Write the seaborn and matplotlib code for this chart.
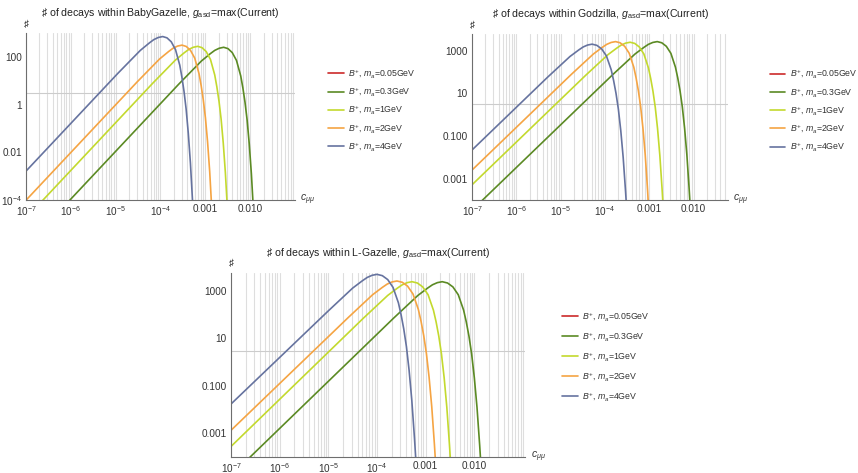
import numpy as np
import pandas as pd
import seaborn as sns
from matplotlib import pyplot as plt
from matplotlib.lines import Line2D
from matplotlib.ticker import FixedLocator, FixedFormatter, NullFormatter

sns.set_style("white")
plt.rcParams['font.family'] = ['Liberation Sans', 'DejaVu Sans']
plt.rcParams['mathtext.fontset'] = 'custom'
plt.rcParams['mathtext.rm'] = 'Liberation Sans'
plt.rcParams['mathtext.it'] = 'Liberation Sans:italic'
plt.rcParams['mathtext.bf'] = 'Liberation Sans:bold'

# Masses and colours
MASSES = ['0.05GeV', '0.3GeV', '1GeV', '2GeV', '4GeV']
COLORS = ['#cc2a2a', '#5b8a24', '#c3d92e', '#f5a443', '#66739f']

# ---- BabyGazelle: c_mumu and number of decays ----
bg_c_03 = [7.943e-7, 2.570e-4, 8.128e-4, 1.288e-3, 1.622e-3, 2.042e-3, 2.570e-3, 3.199e-3, 3.981e-3,
           4.955e-3, 6.166e-3, 6.879e-3, 7.674e-3, 8.560e-3, 9.550e-3, 1.065e-2, 1.189e-2]
bg_n_03 = [6.9e-5, 7.24, 66.1, 135, 186, 229, 251, 221, 151, 70.8, 15.8, 5.01, 1.26, 0.224, 0.0224,
           1.26e-3, 3.16e-5]
bg_c_1 = [1.995e-7, 6.761e-5, 2.138e-4, 3.388e-4, 4.266e-4, 5.370e-4, 6.761e-4, 8.414e-4, 1.047e-3,
          1.303e-3, 1.622e-3, 1.809e-3, 2.018e-3, 2.252e-3, 2.512e-3, 2.802e-3, 3.126e-3]
bg_n_1 = [6.9e-5, 7.94, 72.4, 148, 204, 251, 275, 243, 166, 77.6, 17.4, 5.50, 1.38, 0.245, 0.0245,
          1.38e-3, 3.5e-5]
bg_c_2 = [1e-7, 3.020e-5, 9.550e-5, 1.514e-4, 1.905e-4, 2.399e-4, 3.020e-4, 3.758e-4, 4.677e-4,
          5.821e-4, 7.244e-4, 8.081e-4, 9.016e-4, 1.006e-3, 1.122e-3, 1.252e-3, 1.396e-3]
bg_n_2 = [9.77e-5, 8.91, 81.3, 166, 229, 282, 309, 272, 186, 87.1, 19.5, 6.17, 1.55, 0.275, 0.0275,
          1.55e-3, 3.9e-5]
bg_c_4 = [1e-7, 1.122e-5, 3.548e-5, 5.623e-5, 7.079e-5, 8.913e-5, 1.122e-4, 1.396e-4, 1.738e-4,
          2.163e-4, 2.692e-4, 3.003e-4, 3.350e-4, 3.737e-4, 4.169e-4, 4.651e-4, 5.188e-4, 5.787e-4]
bg_n_4 = [1.62e-3, 20.4, 186, 380, 525, 646, 708, 624, 427, 200, 44.7, 14.1, 3.55, 0.631, 0.0631,
          3.55e-3, 8.9e-5, 1.41e-6]

# ---- Godzilla ----
gz_c_03 = [1.585e-7, 1.514e-4, 4.786e-4, 7.586e-4, 9.550e-4, 1.202e-3, 1.514e-3, 1.919e-3, 2.432e-3,
           3.083e-3, 3.908e-3, 4.401e-3, 4.955e-3, 5.578e-3, 6.281e-3, 7.070e-3, 7.962e-3, 8.964e-3]
gz_n_03 = [8.3e-5, 75.9, 692, 1413, 1950, 2399, 2630, 2317, 1585, 741, 166, 52.5, 13.2, 2.34, 0.234,
           0.0132, 3.31e-4, 5.2e-6]
gz_c_1 = [1e-7, 3.715e-5, 1.175e-4, 1.862e-4, 2.344e-4, 2.951e-4, 3.715e-4, 4.710e-4, 5.970e-4,
          7.568e-4, 9.594e-4, 1.080e-3, 1.216e-3, 1.369e-3, 1.542e-3, 1.736e-3, 1.954e-3, 2.200e-3]
gz_n_1 = [5.13e-4, 70.8, 646, 1318, 1820, 2239, 2455, 2163, 1479, 692, 155, 49.0, 12.3, 2.19, 0.219,
          0.0123, 3.09e-4, 4.9e-6]
gz_c_2 = [1e-7, 1.738e-5, 5.495e-5, 8.710e-5, 1.096e-4, 1.380e-4, 1.738e-4, 2.203e-4, 2.793e-4,
          3.540e-4, 4.487e-4, 5.052e-4, 5.689e-4, 6.405e-4, 7.211e-4, 8.121e-4, 9.141e-4, 1.029e-3]
gz_n_2 = [2.51e-3, 75.9, 692, 1413, 1950, 2399, 2630, 2317, 1585, 741, 166, 52.5, 13.2, 2.34, 0.234,
          0.0132, 3.31e-4, 5.2e-6]
gz_c_4 = [1e-7, 5.129e-6, 1.622e-5, 2.570e-5, 3.236e-5, 4.074e-5, 5.129e-5, 6.577e-5, 8.433e-5,
          1.081e-4, 1.387e-4, 1.570e-4, 1.778e-4, 2.014e-4, 2.280e-4, 2.582e-4, 2.924e-4, 3.311e-4]
gz_n_4 = [0.0219, 57.5, 525, 1072, 1479, 1820, 1995, 1758, 1202, 562, 126, 39.8, 10.0, 1.78, 0.178,
          0.01, 2.51e-4, 3.98e-6]

# ---- L-Gazelle ----
lg_c_03 = [1.995e-7, 2.188e-4, 6.918e-4, 1.096e-3, 1.380e-3, 1.738e-3, 2.188e-3, 2.818e-3, 3.631e-3,
           4.677e-3, 6.026e-3, 6.839e-3, 7.762e-3, 8.810e-3, 1.0e-2, 1.135e-2, 1.288e-2, 1.462e-2]
lg_n_03 = [6.3e-5, 69.2, 631, 1288, 1778, 2188, 2399, 2113, 1445, 676, 151, 47.9, 12.0, 2.14, 0.214,
           0.0120, 3.02e-4, 4.8e-6]
lg_c_1 = [1e-7, 5.248e-5, 1.660e-4, 2.630e-4, 3.311e-4, 4.169e-4, 5.248e-4, 6.761e-4, 8.710e-4,
          1.122e-3, 1.445e-3, 1.641e-3, 1.862e-3, 2.113e-3, 2.399e-3, 2.723e-3, 3.090e-3, 3.508e-3]
lg_n_1 = [2.69e-4, 69.2, 631, 1288, 1778, 2188, 2399, 2113, 1445, 676, 151, 47.9, 12.0, 2.14, 0.214,
          0.0120, 3.02e-4, 4.8e-6]
lg_c_2 = [1e-7, 2.570e-5, 8.128e-5, 1.288e-4, 1.622e-4, 2.042e-4, 2.570e-4, 3.311e-4, 4.266e-4,
          5.495e-4, 7.079e-4, 8.035e-4, 9.120e-4, 1.035e-3, 1.175e-3, 1.334e-3, 1.514e-3, 1.718e-3]
lg_n_2 = [1.29e-3, 74.1, 676, 1380, 1905, 2344, 2570, 2265, 1549, 724, 162, 51.3, 12.9, 2.29, 0.229,
          0.0129, 3.24e-4, 5.1e-6]
lg_c_4 = [1e-7, 1e-5, 3.162e-5, 5.012e-5, 6.310e-5, 7.943e-5, 1e-4, 1.288e-4, 1.660e-4, 2.138e-4,
          2.754e-4, 3.126e-4, 3.548e-4, 4.027e-4, 4.571e-4, 5.188e-4, 5.888e-4, 6.683e-4]
lg_n_4 = [0.0166, 141, 1288, 2630, 3631, 4467, 4898, 4315, 2951, 1380, 309, 97.7, 24.5, 4.37, 0.437,
          0.0245, 6.17e-4, 9.8e-6]

N_LIMIT = 3  # horizontal reference line


def frame(curves):
    rows = []
    for mass, c, n in curves:
        rows.append(pd.DataFrame({'c': c, 'N': n, 'mass': mass}))
    return pd.concat(rows, ignore_index=True)


panels = [
    dict(name='BabyGazelle', pos=[0.0303, 0.5772, 0.3135, 0.3531], xmax=0.1, ymax=1000,
         curves=[('0.3GeV', bg_c_03, bg_n_03), ('1GeV', bg_c_1, bg_n_1), ('2GeV', bg_c_2, bg_n_2),
                 ('4GeV', bg_c_4, bg_n_4)],
         yt=[1e-4, 1e-2, 1, 100], ytl=['$10^{-4}$', '0.01', '1', '100'],
         leg=(0.382, 0.858), spacing=0.63),
    dict(name='Godzilla', pos=[0.5501, 0.5772, 0.2984, 0.3510], xmax=0.06, ymax=6000,
         curves=[('0.3GeV', gz_c_03, gz_n_03), ('1GeV', gz_c_1, gz_n_1), ('2GeV', gz_c_2, gz_n_2),
                 ('4GeV', gz_c_4, gz_n_4)],
         yt=[1e-3, 0.1, 10, 1000], ytl=['0.001', '0.100', '10', '1000'],
         leg=(0.897, 0.857), spacing=0.63),
    dict(name='L-Gazelle', pos=[0.2692, 0.0345, 0.3427, 0.3884], xmax=0.11, ymax=5600,
         curves=[('0.3GeV', lg_c_03, lg_n_03), ('1GeV', lg_c_1, lg_n_1), ('2GeV', lg_c_2, lg_n_2),
                 ('4GeV', lg_c_4, lg_n_4)],
         yt=[1e-3, 0.1, 10, 1000], ytl=['0.001', '0.100', '10', '1000'],
         leg=(0.655, 0.344), spacing=0.83),
]

palette = dict(zip(MASSES, COLORS))
fig = plt.figure(figsize=(8.58, 4.73), dpi=100)

for p in panels:
    ax = fig.add_axes(p['pos'])
    ax.set_xscale('log')
    ax.set_yscale('log')
    ax.set_xlim(1e-7, p['xmax'])
    ax.set_ylim(1e-4, p['ymax'])

    # vertical grid lines (1..9 x each decade)
    for dec in range(-7, 0):
        for k in range(1, 10):
            v = k * 10.0 ** dec
            if v < p['xmax']:
                ax.axvline(v, color='#dedede', lw=0.8, zorder=0)
    ax.axhline(N_LIMIT, color='#cccccc', lw=0.8, zorder=0)

    df = frame(p['curves'])
    sns.lineplot(data=df, x='c', y='N', hue='mass', palette=palette, sort=False,
                 estimator=None, lw=1.2, legend=False, ax=ax)

    for s in ['top', 'right']:
        ax.spines[s].set_visible(False)
    for s in ['left', 'bottom']:
        ax.spines[s].set_color('#6e6e6e')
        ax.spines[s].set_linewidth(0.8)

    xt = [1e-7, 1e-6, 1e-5, 1e-4, 1e-3, 1e-2]
    ax.xaxis.set_major_locator(FixedLocator(xt))
    ax.xaxis.set_major_formatter(FixedFormatter(['$10^{-7}$', '$10^{-6}$', '$10^{-5}$', '$10^{-4}$',
                                                 '0.001', '0.010']))
    ax.yaxis.set_major_locator(FixedLocator(p['yt']))
    ax.yaxis.set_major_formatter(FixedFormatter(p['ytl']))
    ax.xaxis.set_minor_formatter(NullFormatter())
    ax.yaxis.set_minor_formatter(NullFormatter())
    ax.tick_params(which='major', direction='in', length=3, width=0.6, color='#6e6e6e',
                   labelsize=7.2, labelcolor='#333333', pad=3)
    ax.tick_params(which='minor', direction='in', length=1.6, width=0.5, color='#6e6e6e')
    ax.set_xlabel('')
    ax.set_ylabel('')

    ax.set_title('\u266f of decays within ' + p['name'] + r', $g_{\mathrm{asd}}$=max(Current)',
                 fontsize=7.6, color='#222222', pad=12)
    ax.text(0.0, 1.025, '\u266f', transform=ax.transAxes, ha='center', va='bottom',
            fontsize=7, color='#222222')
    ax.text(1.02, 0.0, r'$c_{\mu\mu}$', transform=ax.transAxes, ha='left', va='center',
            fontsize=7.5, color='#333333')

    handles = [Line2D([0], [0], color=palette[m], lw=1.2) for m in MASSES]
    labels = [r'$B^{+}$, $m_a$=' + m for m in MASSES]
    ax.legend(handles, labels, loc='upper left', bbox_to_anchor=p['leg'],
              bbox_transform=fig.transFigure, frameon=False, fontsize=6.3,
              handlelength=1.8, handletextpad=0.5, labelspacing=p['spacing'],
              borderpad=0, borderaxespad=0, labelcolor='#333333')

fig.savefig('out.png', dpi=100)
